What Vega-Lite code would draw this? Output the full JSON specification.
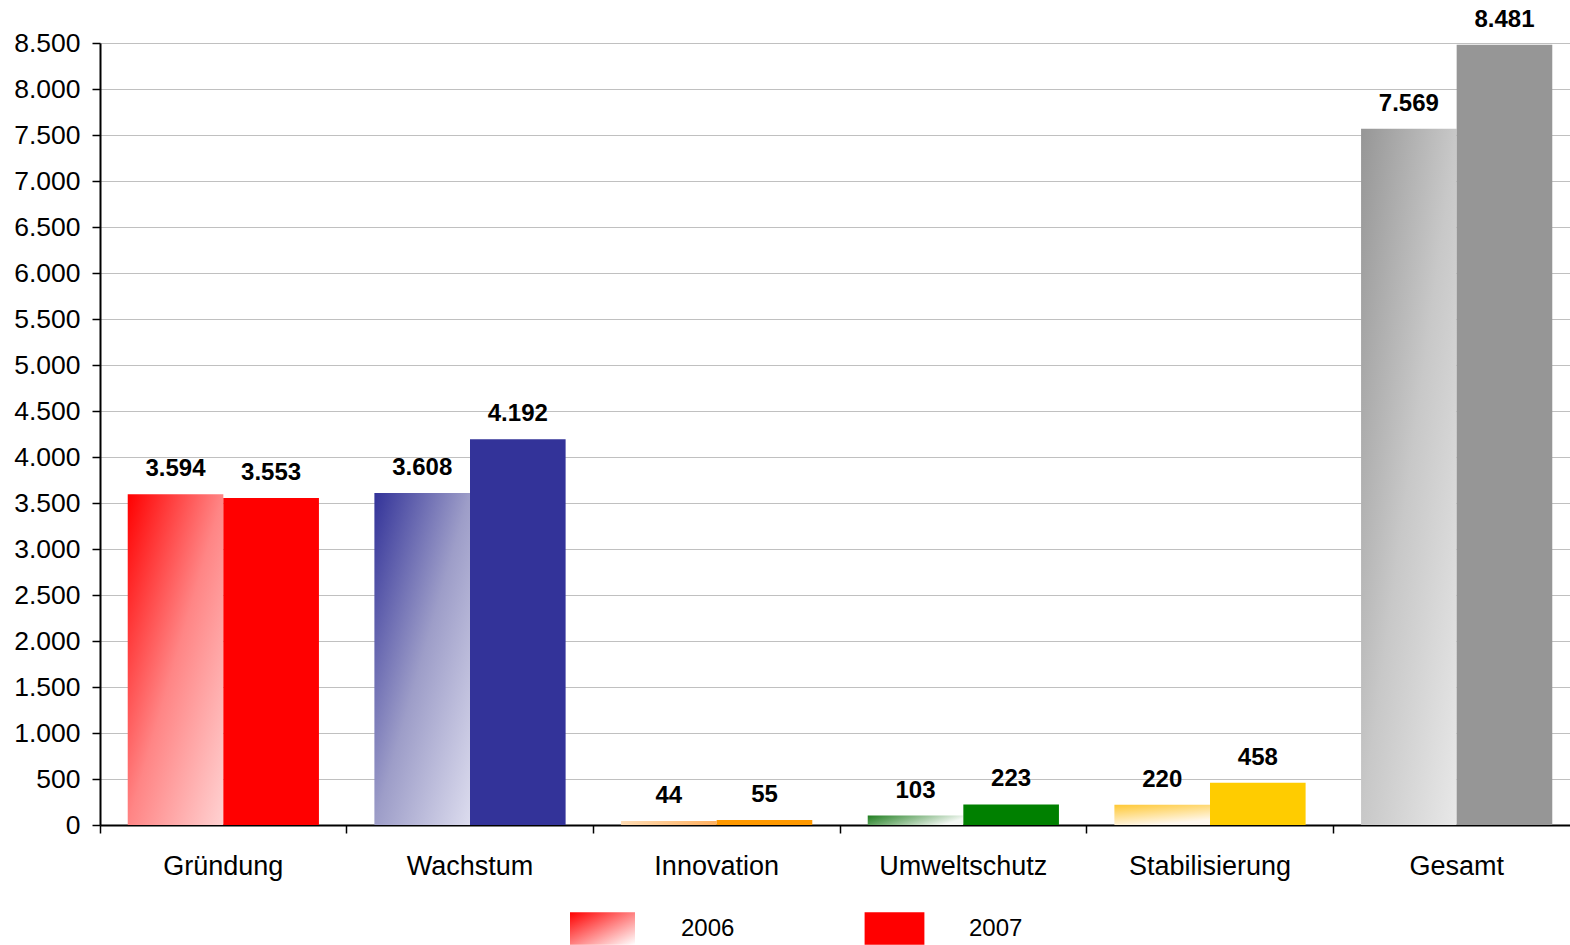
{
  "$schema": "https://vega.github.io/schema/vega-lite/v6.json",
  "autosize": {"type": "none"},
  "width": 1470,
  "height": 782,
  "padding": {"left": 100, "top": 43, "right": 0, "bottom": 120},
  "background": "white",
  "config": {
    "locale": {"number": {"decimal": ",", "thousands": ".", "grouping": [3], "currency": ["", " €"]}},
    "font": "Liberation Sans",
    "view": {"stroke": null}
  },
  "layer": [
    {
      "data": {"values": [
        {"Kategorie": "Gründung", "Jahr": "2006", "Wert": 3594},
        {"Kategorie": "Gründung", "Jahr": "2007", "Wert": 3553},
        {"Kategorie": "Wachstum", "Jahr": "2006", "Wert": 3608},
        {"Kategorie": "Wachstum", "Jahr": "2007", "Wert": 4192},
        {"Kategorie": "Innovation", "Jahr": "2006", "Wert": 44},
        {"Kategorie": "Innovation", "Jahr": "2007", "Wert": 55},
        {"Kategorie": "Umweltschutz", "Jahr": "2006", "Wert": 103},
        {"Kategorie": "Umweltschutz", "Jahr": "2007", "Wert": 223},
        {"Kategorie": "Stabilisierung", "Jahr": "2006", "Wert": 220},
        {"Kategorie": "Stabilisierung", "Jahr": "2007", "Wert": 458},
        {"Kategorie": "Gesamt", "Jahr": "2006", "Wert": 7569},
        {"Kategorie": "Gesamt", "Jahr": "2007", "Wert": 8481}
      ]},
      "encoding": {
        "x": {
          "field": "Kategorie", "type": "nominal", "sort": null,
          "scale": {"paddingInner": 0, "paddingOuter": 0, "range": [0, 1480]},
          "axis": {
            "title": null, "bandPosition": 0, "labelAngle": 0,
            "labelFontSize": 27, "labelColor": "#000000", "labelPadding": 20,
            "domainColor": "#000000", "domainWidth": 2,
            "tickColor": "#000000", "tickSize": 8, "tickWidth": 1.5
          }
        },
        "xOffset": {"field": "Jahr", "type": "nominal", "scale": {"paddingInner": 0, "paddingOuter": 0.29}},
        "y": {
          "field": "Wert", "type": "quantitative",
          "scale": {"domain": [0, 8500], "nice": false},
          "axis": {
            "title": null, "values": [0,500,1000,1500,2000,2500,3000,3500,4000,4500,5000,5500,6000,6500,7000,7500,8000,8500],
            "format": ",d", "labelFontSize": 26.5, "labelColor": "#000000", "labelPadding": 12,
            "domainColor": "#000000", "domainWidth": 2,
            "tickColor": "#000000", "tickSize": 8, "tickWidth": 1.5,
            "gridColor": "#c0c0c0", "gridWidth": 1.2
          }
        }
      },
      "layer": [
        {
          "mark": {"type": "bar", "strokeWidth": 0},
          "encoding": {
            "fill": {
              "condition": [
                {"test": "datum.Jahr === '2006' && datum.Kategorie === 'Gründung'", "value": {"gradient": "linear", "x1": 0, "y1": 0, "x2": 1, "y2": 1, "stops": [{"offset": 0, "color": "#ff0000"}, {"offset": 0.5, "color": "#ff8585"}, {"offset": 1, "color": "#ffd2d2"}]}},
                {"test": "datum.Jahr === '2006' && datum.Kategorie === 'Wachstum'", "value": {"gradient": "linear", "x1": 0, "y1": 0, "x2": 1, "y2": 1, "stops": [{"offset": 0, "color": "#333399"}, {"offset": 0.5, "color": "#9d9dc8"}, {"offset": 1, "color": "#dcdcee"}]}},
                {"test": "datum.Jahr === '2006' && datum.Kategorie === 'Innovation'", "value": {"gradient": "linear", "x1": 0, "y1": 0, "x2": 1, "y2": 0, "stops": [{"offset": 0, "color": "#ffdcb4"}, {"offset": 1, "color": "#ffb060"}]}},
                {"test": "datum.Jahr === '2006' && datum.Kategorie === 'Umweltschutz'", "value": {"gradient": "linear", "x1": 0, "y1": 0, "x2": 1, "y2": 0.3, "stops": [{"offset": 0, "color": "#1e7d1e"}, {"offset": 1, "color": "#f4f8f4"}]}},
                {"test": "datum.Jahr === '2006' && datum.Kategorie === 'Stabilisierung'", "value": {"gradient": "linear", "x1": 0, "y1": 0, "x2": 0.4, "y2": 1, "stops": [{"offset": 0, "color": "#ffc833"}, {"offset": 1, "color": "#fff8ee"}]}},
                {"test": "datum.Jahr === '2006' && datum.Kategorie === 'Gesamt'", "value": {"gradient": "linear", "x1": 0, "y1": 0, "x2": 1, "y2": 1, "stops": [{"offset": 0, "color": "#969696"}, {"offset": 0.5, "color": "#c8c8c8"}, {"offset": 1, "color": "#e8e8e8"}]}},
                {"test": "datum.Kategorie === 'Gründung'", "value": "#ff0000"},
                {"test": "datum.Kategorie === 'Wachstum'", "value": "#333399"},
                {"test": "datum.Kategorie === 'Innovation'", "value": "#ff9900"},
                {"test": "datum.Kategorie === 'Umweltschutz'", "value": "#008000"},
                {"test": "datum.Kategorie === 'Stabilisierung'", "value": "#ffcc00"}
              ],
              "value": "#969696"
            }
          }
        },
        {
          "mark": {"type": "text", "fontSize": 24, "fontWeight": "bold", "baseline": "alphabetic", "dy": -18, "color": "#000000"},
          "encoding": {
            "text": {"field": "Wert", "type": "quantitative", "format": ","}
          }
        }
      ]
    },
    {
      "data": {"values": [{"Jahr": "2006"}]},
      "mark": {"type": "point", "filled": true, "opacity": 0, "color": {"gradient": "linear", "x1": 0, "y1": 0, "x2": 1, "y2": 1, "stops": [{"offset": 0, "color": "#ff0000"}, {"offset": 1, "color": "#ffffff"}]}},
      "encoding": {
        "shape": {
          "field": "Jahr", "type": "nominal",
          "scale": {"domain": ["2006"], "range": ["M-1,-0.5H1V0.5H-1Z"]},
          "legend": {
            "title": null, "orient": "none", "direction": "horizontal",
            "legendX": 470, "legendY": 853,
            "symbolSize": 4225, "symbolStrokeWidth": 0, "symbolOpacity": 1,
            "labelFontSize": 24, "labelColor": "#000000", "labelOffset": 46, "padding": 0
          }
        }
      }
    },
    {
      "data": {"values": [{"Jahr": "2007"}]},
      "mark": {"type": "point", "filled": true, "opacity": 0},
      "encoding": {
        "color": {
          "field": "Jahr", "type": "nominal",
          "scale": {"domain": ["2007"], "range": ["#ff0000"]},
          "legend": {
            "title": null, "orient": "none", "direction": "horizontal",
            "legendX": 762, "legendY": 853,
            "symbolType": "M-0.92,-0.5H0.92V0.5H-0.92Z", "symbolSize": 4225, "symbolStrokeWidth": 0, "symbolOpacity": 1,
            "labelFontSize": 24, "labelColor": "#000000", "labelOffset": 42, "padding": 0
          }
        }
      }
    }
  ]
}
